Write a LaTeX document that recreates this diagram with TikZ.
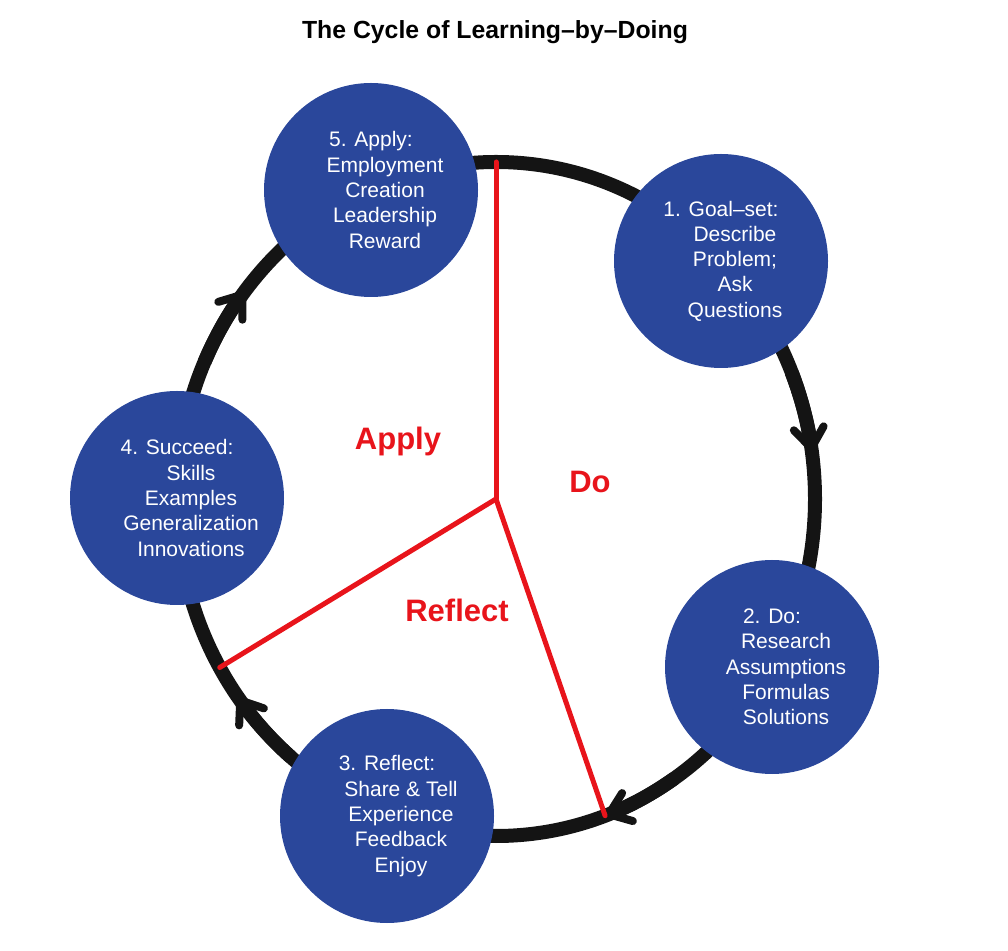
\documentclass[tikz,border=0pt]{standalone}
\usepackage{fontspec}
\setmainfont{Liberation Sans}
\usepackage{xcolor}
\usepackage{tikz}
\usetikzlibrary{arrows.meta}
\definecolor{stageblue}{RGB}{42,71,155}
\definecolor{ringblack}{RGB}{20,20,20}
\definecolor{splitred}{RGB}{232,20,27}
\tikzstyle{stage} = [circle, fill=stageblue, text=white, minimum size=214pt, inner sep=0pt, align=center, font=\fontsize{21}{25.3}\selectfont]
\tikzstyle{ring} = [line width=14pt, draw=ringblack]
\tikzstyle{ringarrow} = [ring, -{Straight Barb[length=20pt, width=30pt, line width=8pt, round]}]
\tikzstyle{split} = [line width=5pt, draw=splitred, line cap=round]
\tikzstyle{phase} = [text=splitred, font=\fontsize{31}{36}\selectfont\bfseries, anchor=base]
\newcommand{\ind}{\hspace*{28pt}}

\begin{document}
\begin{tikzpicture}[x=1pt, y=1pt]
    \useasboundingbox (0,0) rectangle (1008,950);
    \pgfmathsetmacro{\rx}{319}
    \pgfmathsetmacro{\ry}{337}
    \coordinate (ctr) at (496,451);

    % ring, clockwise
    \draw[ring] (ctr) ellipse [x radius=\rx, y radius=\ry];
    \foreach \a/\b in {22/8, -56/-70, -130/-144, -204/-218}
        \draw[ringarrow] (ctr) ++({\a}:{\rx} and {\ry}) arc[start angle=\a, end angle=\b, x radius=\rx, y radius=\ry];

    % red spokes
    \path (ctr) ++(90:{\rx} and {\ry}) coordinate (rimtop);
    \path (ctr) ++(-70:{\rx} and {\ry}) coordinate (rimright);
    \path (ctr) ++(-150:{\rx} and {\ry}) coordinate (rimleft);
    \draw[split] (ctr) -- (rimtop);
    \draw[split] (ctr) -- (rimright);
    \draw[split] (ctr) -- (rimleft);

    \node[phase] (apply) at (398,500) {Apply};
    \node[phase] (do) at (590,457) {Do};
    \node[phase] (reflect) at (457,328) {Reflect};

    \node[font=\fontsize{24.8}{29}\selectfont\bfseries, anchor=base] (title) at (495,911) {The Cycle of Learning–by–Doing};

    \node[stage] (goal) at (721,689) {1. Goal–set:\\\ind Describe\\\ind Problem;\\\ind Ask\\\ind Questions};
    \node[stage] (doing) at (772,283) {2. Do:\\\ind Research\\\ind Assumptions\\\ind Formulas\\\ind Solutions};
    \node[stage] (reflecting) at (387,134) {3. Reflect:\\\ind Share \& Tell\\\ind Experience\\\ind Feedback\\\ind Enjoy};
    \node[stage] (succeed) at (177,452) {4. Succeed:\\\ind Skills\\\ind Examples\\\ind Generalization\\\ind Innovations};
    \node[stage] (applying) at (371,760) {5. Apply:\\\ind Employment\\\ind Creation\\\ind Leadership\\\ind Reward};
\end{tikzpicture}
\end{document}
